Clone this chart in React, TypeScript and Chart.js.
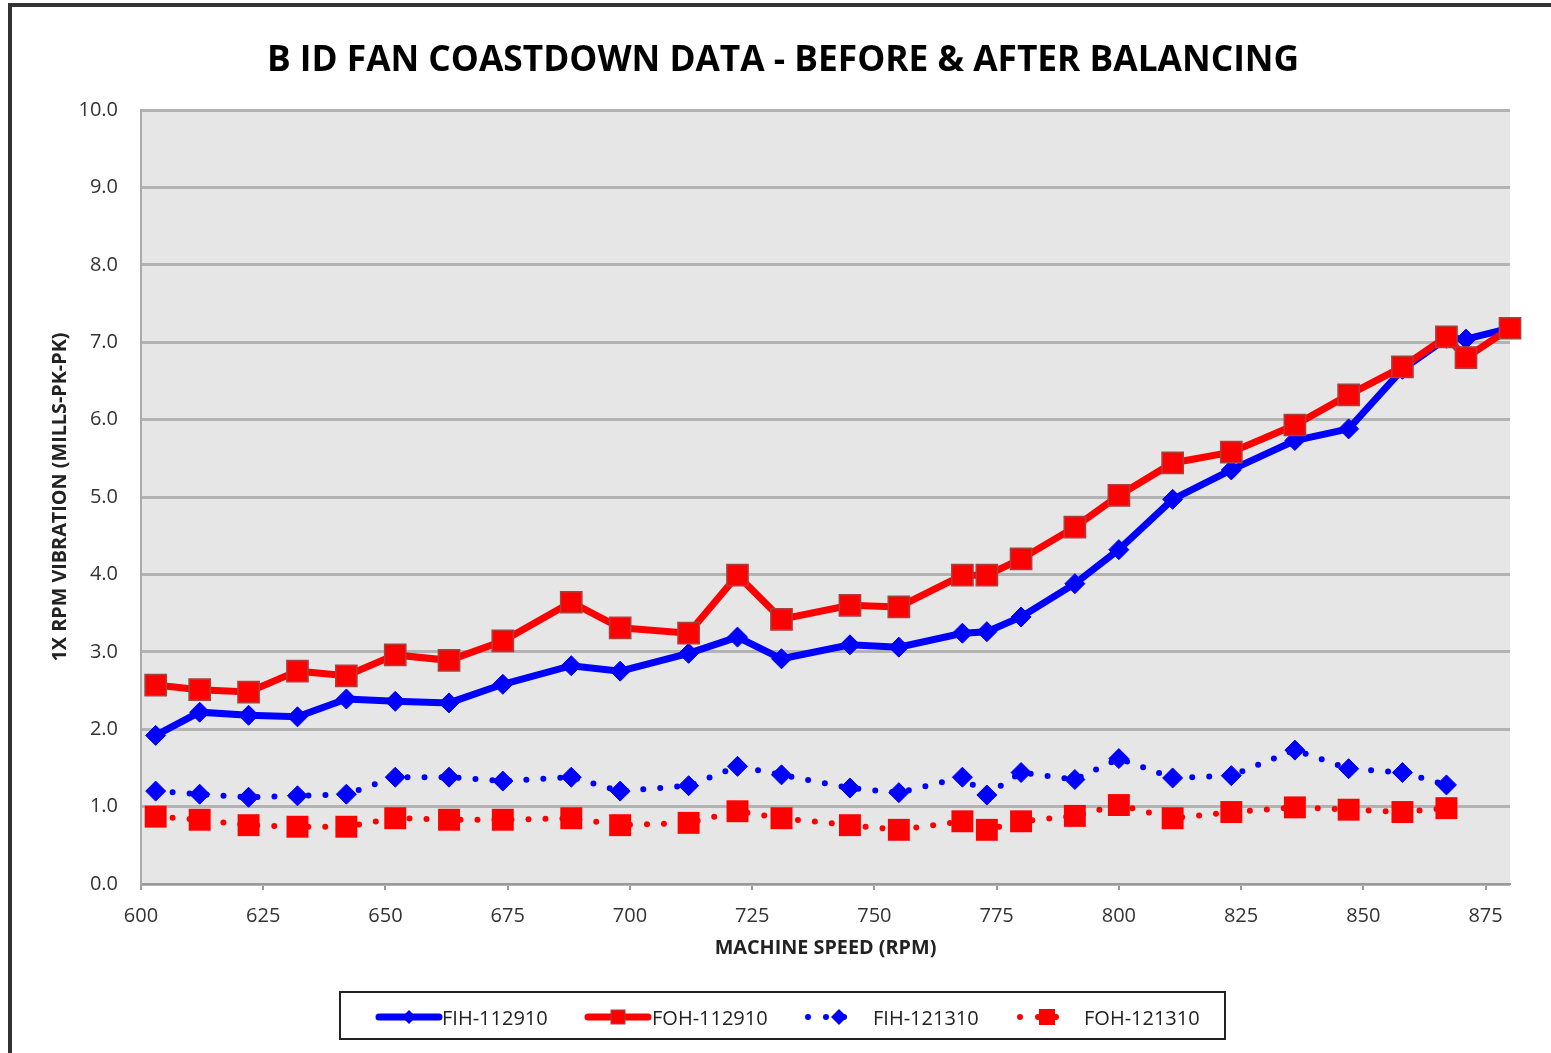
import React, { useEffect, useRef } from 'react';
import { Chart, registerables } from 'chart.js';

Chart.register(...registerables);

// Before balancing (11/29/10) speeds, RPM
const rpmBefore = [603, 612, 622, 632, 642, 652, 663, 674, 688, 698, 712, 722, 731, 745, 755, 768, 773, 780, 791, 800, 811, 823, 836, 847, 858, 867, 871, 880];
const fih112910 = [1.92, 2.22, 2.18, 2.16, 2.39, 2.36, 2.34, 2.58, 2.82, 2.75, 2.98, 3.19, 2.91, 3.09, 3.06, 3.24, 3.26, 3.45, 3.88, 4.32, 4.97, 5.35, 5.73, 5.88, 6.65, 7.05, 7.04, 7.18];
const foh112910 = [2.57, 2.51, 2.48, 2.75, 2.69, 2.96, 2.89, 3.14, 3.64, 3.31, 3.24, 3.99, 3.42, 3.60, 3.58, 3.99, 3.99, 4.20, 4.61, 5.02, 5.44, 5.58, 5.93, 6.32, 6.68, 7.07, 6.80, 7.18];

// After balancing (12/13/10) speeds, RPM
const rpmAfter = [603, 612, 622, 632, 642, 652, 663, 674, 688, 698, 712, 722, 731, 745, 755, 768, 773, 780, 791, 800, 811, 823, 836, 847, 858, 867];
const fih121310 = [1.20, 1.16, 1.12, 1.14, 1.16, 1.38, 1.38, 1.33, 1.38, 1.20, 1.27, 1.52, 1.41, 1.24, 1.18, 1.38, 1.15, 1.44, 1.35, 1.62, 1.37, 1.40, 1.73, 1.49, 1.44, 1.28];
const foh121310 = [0.87, 0.83, 0.76, 0.74, 0.74, 0.85, 0.83, 0.83, 0.85, 0.76, 0.79, 0.94, 0.85, 0.76, 0.70, 0.81, 0.70, 0.81, 0.88, 1.02, 0.85, 0.93, 0.99, 0.96, 0.93, 0.98];

const seriesNames = ['FIH-112910', 'FOH-112910', 'FIH-121310', 'FOH-121310'];
const titleText = 'B ID FAN COASTDOWN DATA - BEFORE & AFTER BALANCING';
const xTitle = 'MACHINE SPEED (RPM)';
const yTitle = '1X RPM VIBRATION (MILLS-PK-PK)';
const xMin = 600;
const xMax = 880;
const xStep = 25;
const yMin = 0;
const yMax = 10;
const yStep = 1;

const FONT = "'Open Sans', 'DejaVu Sans', sans-serif";
const BLUE = '#0000ff';
const RED = '#ff0000';

const toPts = (xs: number[], ys: number[]) => xs.map((x, i) => ({ x, y: ys[i] }));

const plotBg = {
  id: 'plotBg',
  beforeDraw(chart: any) {
    const { ctx, chartArea } = chart;
    if (!chartArea) return;
    ctx.save();
    ctx.fillStyle = '#e6e6e6';
    ctx.fillRect(chartArea.left, chartArea.top, chartArea.right - chartArea.left, chartArea.bottom - chartArea.top);
    ctx.restore();
  },
};

export default function App() {
  const ref = useRef<HTMLCanvasElement | null>(null);

  useEffect(() => {
    if (!ref.current) return;
    const chart = new Chart(ref.current, {
      type: 'line',
      data: {
        datasets: [
          {
            label: seriesNames[0],
            data: toPts(rpmBefore, fih112910),
            borderColor: BLUE,
            backgroundColor: BLUE,
            borderWidth: 7,
            pointStyle: 'rectRot',
            pointRadius: 10,
            pointBorderWidth: 1,
            pointBorderColor: BLUE,
            pointBackgroundColor: BLUE,
            tension: 0,
            clip: false,
            order: 2,
          },
          {
            label: seriesNames[1],
            data: toPts(rpmBefore, foh112910),
            borderColor: RED,
            backgroundColor: RED,
            borderWidth: 7,
            pointStyle: 'rect',
            pointRadius: 15,
            pointBorderWidth: 1.5,
            pointBorderColor: '#a84040',
            pointBackgroundColor: RED,
            tension: 0,
            clip: false,
            order: 1,
          },
          {
            label: seriesNames[2],
            data: toPts(rpmAfter, fih121310),
            borderColor: BLUE,
            backgroundColor: BLUE,
            borderWidth: 6,
            borderDash: [0, 17],
            borderCapStyle: 'round',
            pointStyle: 'rectRot',
            pointRadius: 10,
            pointBorderWidth: 1,
            pointBorderColor: BLUE,
            pointBackgroundColor: BLUE,
            tension: 0,
            clip: false,
            order: 3,
          },
          {
            label: seriesNames[3],
            data: toPts(rpmAfter, foh121310),
            borderColor: RED,
            backgroundColor: RED,
            borderWidth: 6,
            borderDash: [0, 17],
            borderCapStyle: 'round',
            pointStyle: 'rect',
            pointRadius: 15.5,
            pointBorderWidth: 0,
            pointBorderColor: RED,
            pointBackgroundColor: RED,
            tension: 0,
            clip: false,
            order: 4,
          },
        ],
      },
      options: {
        responsive: false,
        animation: false,
        devicePixelRatio: 1,
        layout: { padding: { left: 0, right: 41, top: 110, bottom: 89 } },
        plugins: {
          legend: { display: false },
          tooltip: { enabled: false },
          title: { display: false },
        },
        scales: {
          x: {
            type: 'linear',
            min: xMin,
            max: xMax,
            afterFit: (s: any) => { s.height = 80; },
            ticks: {
              stepSize: xStep,
              includeBounds: false,
              color: '#333',
              font: { family: FONT, size: 20 },
              padding: 14,
              maxRotation: 0,
              callback: (v: any) => String(v),
            },
            grid: { drawOnChartArea: false, drawTicks: true, tickLength: 6, color: '#999', lineWidth: 2 },
            border: { display: true, color: '#999', width: 2 },
            title: {
              display: true,
              text: xTitle,
              color: '#222',
              font: { family: FONT, size: 19.8, weight: 'bold' },
              padding: { top: 0, bottom: 4.2 },
            },
          },
          y: {
            type: 'linear',
            min: yMin,
            max: yMax,
            afterFit: (s: any) => { s.width = 141; },
            ticks: {
              stepSize: yStep,
              color: '#333',
              font: { family: FONT, size: 20 },
              padding: 23,
              callback: (v: any) => Number(v).toFixed(1),
            },
            grid: { drawTicks: false, color: '#b3b3b3', lineWidth: 3 },
            border: { display: true, color: '#aaa', width: 2 },
            title: {
              display: true,
              text: yTitle,
              color: '#222',
              font: { family: FONT, size: 19.8, weight: 'bold' },
              padding: { top: 48.1, bottom: 0 },
            },
          },
        },
      },
      plugins: [plotBg],
    } as any);
    return () => chart.destroy();
  }, []);

  const legendText: React.CSSProperties = {
    position: 'absolute',
    top: 1006,
    fontFamily: FONT,
    fontSize: 20,
    lineHeight: '24px',
    color: '#222',
    whiteSpace: 'nowrap',
  };

  return (
    <div style={{ position: 'absolute', left: 0, top: 0, width: 1551, height: 1053, overflow: 'hidden', background: '#fff' }}>
      <canvas ref={ref} width={1551} height={1053} style={{ position: 'absolute', left: 0, top: 0, width: 1551, height: 1053 }} />
      <div style={{ position: 'absolute', left: 0, top: 36, width: 1566, textAlign: 'center', fontFamily: FONT, fontWeight: 'bold', fontSize: 35.3, lineHeight: '42px', color: '#000', whiteSpace: 'nowrap' }}>{titleText}</div>
      <div style={{ position: 'absolute', left: 8, top: 3, width: 1600, height: 1100, borderTop: '4px solid #333', borderLeft: '4px solid #333', boxSizing: 'border-box', pointerEvents: 'none' }} />
      <div style={{ position: 'absolute', left: 339, top: 991, width: 887, height: 49, border: '2px solid #222', boxSizing: 'border-box', background: '#fff' }} />
      <svg width={1551} height={1053} style={{ position: 'absolute', left: 0, top: 0, pointerEvents: 'none' }}>
        <line x1={379} y1={1017} x2={439} y2={1017} stroke={BLUE} strokeWidth={7} strokeLinecap="round" />
        <polygon points="409,1010 416,1017 409,1024 402,1017" fill={BLUE} />
        <line x1={588} y1={1017} x2={648} y2={1017} stroke={RED} strokeWidth={7} strokeLinecap="round" />
        <rect x={611} y={1010} width={14} height={14} fill={RED} stroke="#a84040" strokeWidth={1} />
        <line x1={808} y1={1017} x2={862} y2={1017} stroke={BLUE} strokeWidth={6} strokeLinecap="round" strokeDasharray="0 18" />
        <polygon points="839,1009 847,1017 839,1025 831,1017" fill={BLUE} />
        <line x1={1020} y1={1017} x2={1074} y2={1017} stroke={RED} strokeWidth={6} strokeLinecap="round" strokeDasharray="0 18" />
        <rect x={1039} y={1009} width={16} height={16} fill={RED} />
      </svg>
      <span style={{ ...legendText, left: 442 }}>{seriesNames[0]}</span>
      <span style={{ ...legendText, left: 652 }}>{seriesNames[1]}</span>
      <span style={{ ...legendText, left: 873 }}>{seriesNames[2]}</span>
      <span style={{ ...legendText, left: 1084 }}>{seriesNames[3]}</span>
    </div>
  );
}
